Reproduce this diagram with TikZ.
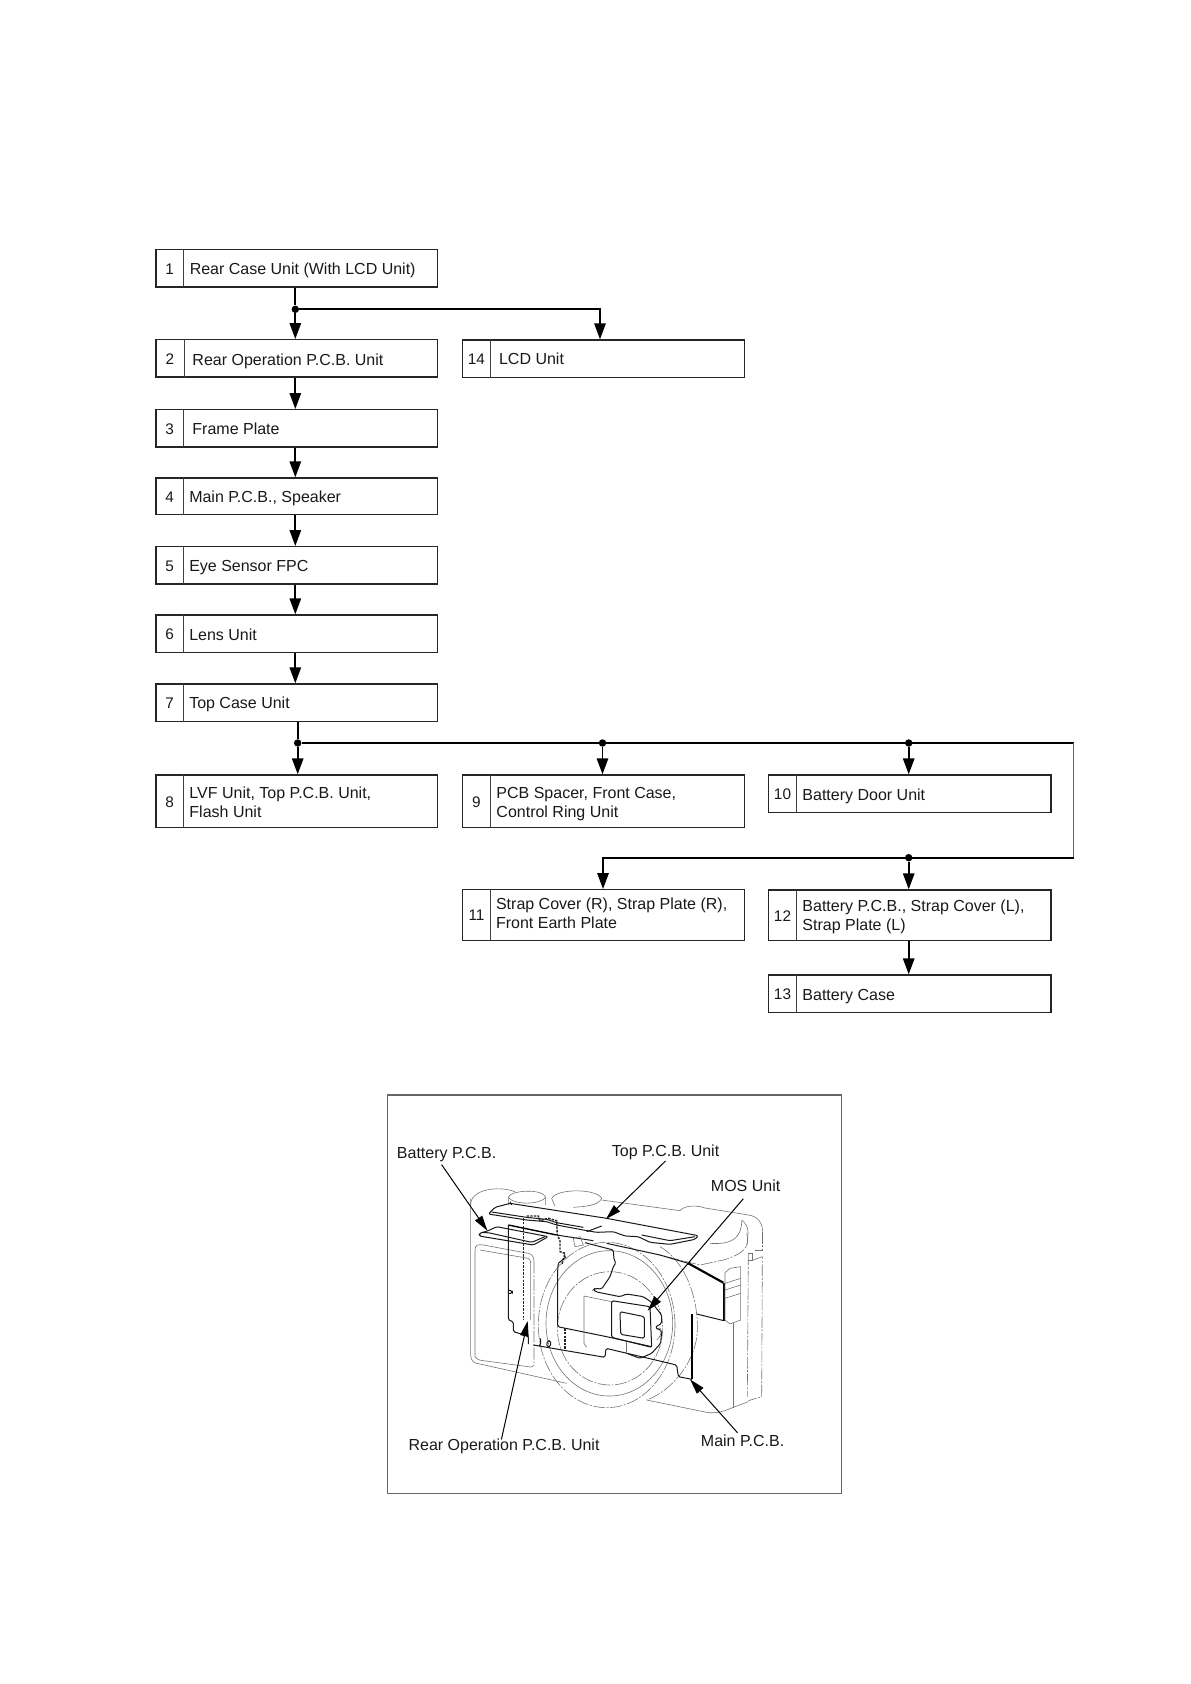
\documentclass[tikz,border=0pt]{standalone}
\usepackage{fontspec}
\setmainfont{Liberation Sans}
\usetikzlibrary{arrows.meta,fit,shapes.geometric}
\tikzset{
  ubox/.style={draw=black!85,line width=1pt,inner sep=0pt,fill=none},
  ncell/.style={inner sep=0pt},
  nnum/.style={inner sep=0pt,font=\fontsize{11.5}{13}\selectfont,text=black!90},
  cdiv/.style={draw=black!75,line width=0.85pt},
  lbl/.style={anchor=base west,inner sep=0pt,align=left,font=\fontsize{12}{14.25}\selectfont,text=black!90},
  conn/.style={draw=black,line width=1.45pt},
  arr/.style={conn,-{Triangle[length=12pt,width=8.5pt]}},
  jdot/.style={circle,fill=black,inner sep=0pt,minimum size=5.6pt},
  ghost/.style={draw=black!55,line width=0.45pt},
  ghostd/.style={draw=black!55,line width=0.45pt,dash pattern=on 9pt off 1.2pt on 1.5pt off 1.2pt},
  pcb/.style={draw=black!90,line width=0.75pt,rounded corners=1.2pt},
  pcbm/.style={draw=black,line width=1.05pt},
  pcbb/.style={draw=black,line width=1.6pt},
  pcbd/.style={draw=black!85,line width=1.1pt,dash pattern=on 1.8pt off 0.9pt},
  call/.style={draw=black,line width=0.75pt,-{Triangle[length=11.5pt,width=6.4pt]}}
}
\newcommand{\ubx}[7]{% name x0 xd x1 y0 y1 num
  \node[ubox,fit={(#2,#5)(#4,#6)}] (b#1) {};
  \node[ncell,fit={(#2,#5)(#3,#6)}] (c#1) {};
  \draw[cdiv] (c#1.north east) -- (c#1.south east);
  \node[nnum] (n#1) at ([yshift=-0.4pt]c#1.center) {#7};
}
\begin{document}
\begin{tikzpicture}[x=0.75pt,y=-0.75pt]
\useasboundingbox (0,0) rectangle (1190,1684);
% boxes
\ubx{1}{156}{183.5}{437.7}{249.7}{287}{1}
\ubx{2}{156}{184}{437.7}{339.7}{377}{2}
\ubx{3}{156}{183.5}{437.7}{409.7}{447}{3}
\ubx{4}{156}{183.5}{437.7}{478}{514.7}{4}
\ubx{5}{156}{183.5}{437.7}{546.7}{584}{5}
\ubx{6}{156}{183.5}{437.7}{615}{652.3}{6}
\ubx{7}{156}{183.5}{437.7}{684}{721.7}{7}
\ubx{8}{156}{183.5}{437.7}{775}{827.7}{8}
\ubx{9}{462.7}{490.3}{744.3}{775}{827.7}{9}
\ubx{10}{768.7}{796.3}{1051}{775}{812.3}{10}
\ubx{11}{462.7}{490.3}{744.3}{889.7}{940.3}{11}
\ubx{12}{768.7}{796.3}{1051}{890}{940.7}{12}
\ubx{13}{768.7}{796.3}{1051}{975}{1012.3}{13}
\ubx{14}{462.7}{490}{744.3}{340}{377.5}{14}
% texts
\node[lbl] (t1) at (189.5,274.3) {Rear Case Unit (With LCD Unit)};
\node[lbl] (t2) at (192.2,365.3) {Rear Operation P.C.B. Unit};
\node[lbl] (t3) at (192.2,434) {Frame Plate};
\node[lbl] (t4) at (189,502.5) {Main P.C.B., Speaker};
\node[lbl] (t5) at (189,571) {Eye Sensor FPC};
\node[lbl] (t6) at (189,640.5) {Lens Unit};
\node[lbl] (t7) at (189,708.3) {Top Case Unit};
\node[lbl] (t8) at (189.2,817.3) {LVF Unit, Top P.C.B. Unit,\\Flash Unit};
\node[lbl] (t9) at (496.2,817.3) {PCB Spacer, Front Case,\\Control Ring Unit};
\node[lbl] (t10) at (802.2,800) {Battery Door Unit};
\node[lbl] (t11) at (495.8,928.3) {Strap Cover (R), Strap Plate (R),\\Front Earth Plate};
\node[lbl] (t12) at (802.2,930) {Battery P.C.B., Strap Cover (L),\\Strap Plate (L)};
\node[lbl] (t13) at (802.2,1000.3) {Battery Case};
\node[lbl] (t14) at (498.8,364.3) {LCD Unit};
% junctions
\node[jdot] (j1) at (295.3,309.3) {};
\node[jdot] (j7) at (297.7,743) {};
\node[jdot] (j9) at (602.5,743) {};
\node[jdot] (j10) at (908.7,743) {};
\node[jdot] (j12) at (908.7,857.7) {};
\coordinate (a14) at (600,309.3);
\coordinate (r1) at (1073.7,743);
\coordinate (r2) at (1073.7,857.7);
\coordinate (k11) at (603,857.7);
% connectors
\draw[conn] (j1 |- b1.south) -- (j1);
\draw[arr] (j1) -- (j1 |- b2.north);
\draw[arr] (j1) -- (a14) -- (a14 |- b14.north);
\draw[arr] (j1 |- b2.south) -- (j1 |- b3.north);
\draw[arr] (j1 |- b3.south) -- (j1 |- b4.north);
\draw[arr] (j1 |- b4.south) -- (j1 |- b5.north);
\draw[arr] (j1 |- b5.south) -- (j1 |- b6.north);
\draw[arr] (j1 |- b6.south) -- (j1 |- b7.north);
\draw[conn] (j7 |- b7.south) -- (j7);
\draw[arr] (j7) -- (j7 |- b8.north);
\draw[conn] (j7) -- (r1);
\draw[arr] (j9) -- (j9 |- b9.north);
\draw[arr] (j10) -- (j10 |- b10.north);
\draw[draw=black!60,line width=1pt] (r1) -- (r2);
\draw[arr] (r2) -- (k11) -- (k11 |- b11.north);
\draw[arr] (j12) -- (j12 |- b12.north);
\draw[arr] (j12 |- b12.south) -- (j12 |- b13.north);
% camera panel
\begin{scope}[shift={(380,1090)},x=0.25pt,y=-0.25pt]
\draw[draw=black!60,line width=0.8pt] (22,15) rectangle (1385,1210);
% body outline
\draw[ghost] (272,345) .. controls (270,300) and (350,285) .. (405,305);
\draw[ghost] (272,325) -- (272,795) .. controls (272,815) and (285,820) .. (300,822) -- (560,880);
\draw[ghost] (385,345) -- (385,322) .. controls (390,300) and (490,295) .. (497,322) -- (497,345);
\draw[ghost] (385,322) .. controls (400,345) and (480,345) .. (497,322);
\draw[ghost] (515,325) .. controls (530,295) and (650,295) .. (665,325) .. controls (655,350) and (600,350) .. (580,352);
\draw[ghost] (515,325) -- (525,348);
\draw[ghost] (665,330) -- (900,362) .. controls (915,345) and (950,345) .. (975,354) -- (1105,375) .. controls (1130,378) and (1147,395) .. (1148,425);
\draw[ghostd] (1148,425) -- (1148,480) -- (1125,480);
\draw[ghost] (1085,390) .. controls (1110,410) and (1105,430) .. (1100,470);
\draw[ghost] (990,460) .. controls (1060,465) and (1085,440) .. (1085,392);
\draw[ghostd] (1100,430) .. controls (1110,470) and (1095,490) .. (1030,510) -- (960,525) -- (840,495);
% grip side
\draw[ghost] (1105,490) -- (1118,490) -- (1118,510) -- (1105,510);
\draw[ghostd] (1105,490) -- (1102,920);
\draw[ghostd] (1120,510) -- (1147,500) -- (1145,920) -- (1105,932) ;
\draw[ghost] (1060,700) -- (1060,955);
\draw[ghost] (800,930) -- (985,968) .. controls (1020,970) and (1040,960) .. (1060,952) -- (1105,935);
% left door
\draw[ghost] (285,800) -- (285,480) .. controls (285,465) and (295,462) .. (310,465) -- (445,490) .. controls (455,492) and (462,500) .. (462,515);
\draw[ghostd] (462,515) -- (462,820) .. controls (462,830) and (455,833) .. (445,830);
\draw[ghost] (285,800) .. controls (290,808) and (295,810) .. (310,812) -- (445,830);
\draw[ghost] (300,480) -- (445,505) .. controls (450,507) and (452,512) .. (452,520) -- (452,690);
% lens rings
\draw[ghostd] (680,705) ellipse [x radius=205,y radius=248];
\draw[ghost] (688,700) ellipse [x radius=190,y radius=218];
\draw[ghostd] (690,715) ellipse [x radius=158,y radius=170];
\draw[ghostd] (840,470) .. controls (925,520) and (955,640) .. (952,720) .. controls (950,810) and (880,900) .. (800,930);
% top PCB
\draw[pcb] (325,372) -- (345,352) -- (390,340) -- (680,385) -- (955,437) -- (945,448) -- (870,463) -- (810,457) -- (775,440) -- (735,438) -- (700,425) -- (650,427) -- (610,420) -- (530,405) -- (500,395) -- (440,390) -- cycle;
\draw[pcb] (335,366) -- (440,382) -- (500,388) -- (530,398) -- (610,412);
\draw[pcb] (620,425) -- (665,408);
\draw[pcb] (785,435) -- (870,452) -- (945,440);
\draw[pcb] (390,335) -- (395,345);
% battery PCB
\draw[pcb] (298,438) -- (298,430) -- (325,422) -- (350,410) -- (505,440) -- (460,465) -- cycle;
\draw[pcb] (305,428) -- (325,428) -- (455,457) -- (495,440);
% main PCB long edge
\draw[pcbm] (385,405) -- (530,435);
\draw[pcb] (530,435) -- (640,452);
\draw[pcb] (680,460) -- (840,495) -- (925,520);
\draw[pcbb] (925,520) -- (1030,578);
\draw[pcbm] (1032,578) -- (1032,692);
\draw[pcb] (1032,692) -- (950,672);
\draw[pcbb] (936,672) -- (936,868);
\draw[pcb] (936,868) -- (895,860) -- (890,825) -- (678,775) -- (675,802) -- (460,765);
\draw[pcb] (385,405) -- (385,690) -- (400,695) -- (400,725) -- (445,738) -- (445,762);
\draw[pcb] (385,600) -- (397,603) -- (397,610) -- (385,610);
% dashed edges
\draw[pcbd] (430,385) -- (430,690);
\draw[pcbd] (440,378) -- (475,378) -- (480,392) -- (505,385) -- (530,392) -- (532,435) -- (540,452) -- (540,485) -- (555,490) -- (545,525);
\draw[pcbd] (555,715) -- (555,778);
% central PCB
\draw[pcb] (535,520) -- (558,500);
\draw[pcb] (535,520) -- (533,540) -- (533,710) -- (680,740) -- (815,770);
\draw[pcb] (615,458) -- (700,480) -- (702,510) -- (708,518) -- (700,530) -- (690,560) -- (665,597) -- (645,595) -- (640,600) -- (650,606) -- (720,620) -- (740,612) -- (790,620) -- (815,637) -- (845,675) -- (845,700) -- (825,712) -- (845,722) -- (842,760) -- (815,790) -- (780,805) -- (745,792);
\draw[ghost] (580,445) -- (600,440) -- (610,465) -- (585,470) -- cycle;
\draw[ghost] (830,720) .. controls (845,700) and (850,735) .. (830,750);
\draw[pcb] (480,745) -- (484,755) -- (478,768);
\draw[pcb] (502,752) -- (512,752) -- (512,770) -- (500,770) -- cycle;
% MOS unit
\draw[ghost] (695,635) -- (612,618) -- (612,760) -- (620,772);
\draw[pcb] (695,632) -- (810,650) -- (815,772) -- (695,742) -- cycle;
\draw[pcb] (720,665) -- (793,680) -- (793,745) -- (722,733) -- cycle;
\draw[ghost] (738,755) -- (738,790);
% strap lug
\draw[ghost] (1035,548) -- (1050,535) -- (1082,530) -- (1082,690) -- (1050,702) -- (1035,690) -- cycle;
\draw[ghost] (1035,580) -- (1082,565);
\draw[ghost] (1035,600) -- (1082,585);
\draw[ghost] (1035,625) -- (1082,610);
% labels
\node[lbl] (lb) at (50,205) {Battery P.C.B.};
\node[lbl] (lt) at (695,198) {Top P.C.B. Unit};
\node[lbl] (lm) at (992,305) {MOS Unit};
\node[lbl] (lp) at (962,1068) {Main P.C.B.};
\node[lbl] (lr) at (85,1082) {Rear Operation P.C.B. Unit};
\coordinate (tb) at (322,422);
\coordinate (tt) at (678,387);
\coordinate (tm) at (803,662);
\coordinate (tp) at (930,868);
\coordinate (tr) at (443,693);
\draw[call] ([xshift=-3.75pt,yshift=-2pt]lb.south) -- (tb);
\draw[call] ([yshift=-1pt]lt.south) -- (tt);
\draw[call] ([xshift=-1.75pt,yshift=-5pt]lm.south) -- (tm);
\draw[call] ([xshift=-3.75pt,yshift=1pt]lp.north) -- (tp);
\draw[call] ([xshift=-2pt,yshift=-0.5pt]lr.north) -- (tr);
\end{scope}
\end{tikzpicture}
\end{document}
